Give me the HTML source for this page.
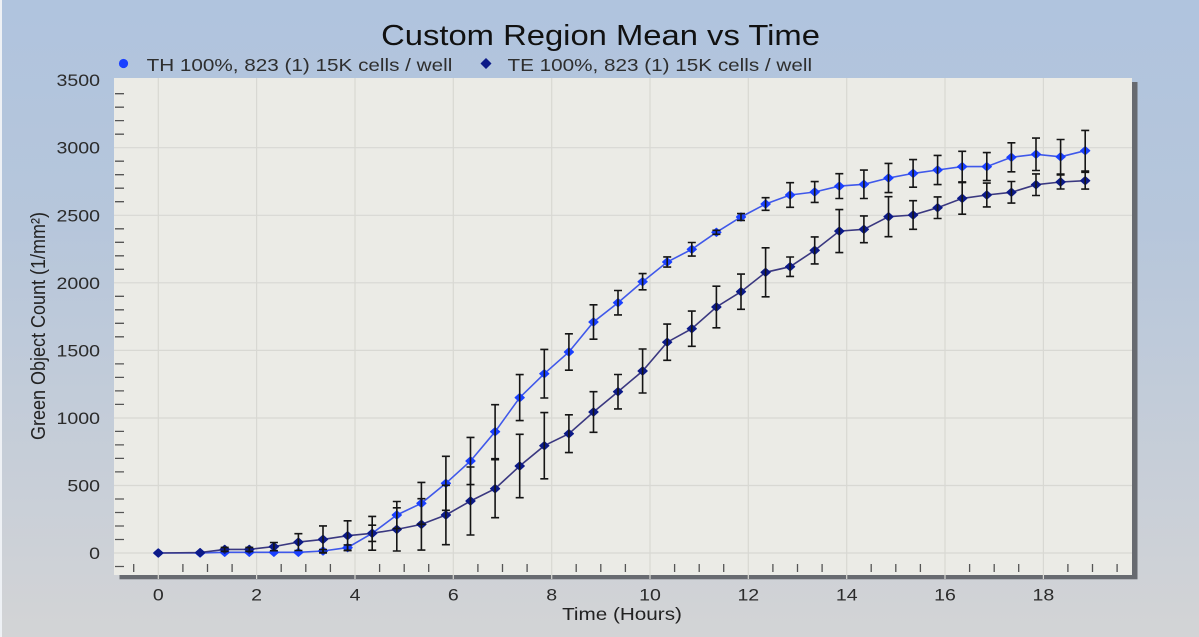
<!DOCTYPE html>
<html>
<head>
<meta charset="utf-8">
<style>
html,body{margin:0;padding:0;width:1199px;height:637px;overflow:hidden;}
svg{display:block;font-family:"Liberation Sans",Arial,sans-serif;}
</style>
</head>
<body>
<svg width="1199" height="637" viewBox="0 0 1199 637" xmlns="http://www.w3.org/2000/svg">
<defs>
<linearGradient id="bg" x1="0" y1="0" x2="0" y2="1">
<stop offset="0" stop-color="#b0c4de"/>
<stop offset="0.35" stop-color="#b6c6db"/>
<stop offset="1" stop-color="#d3d4d6"/>
</linearGradient>
<marker id="mth" markerWidth="14" markerHeight="14" refX="7" refY="7" markerUnits="userSpaceOnUse" overflow="visible">
<path d="M7,3 L11.5,7 L7,11 L2.5,7Z" fill="#1a40ff" stroke="#1a40ff" stroke-width="1.3" stroke-linejoin="round"/>
</marker>
<marker id="mte" markerWidth="14" markerHeight="14" refX="7" refY="7" markerUnits="userSpaceOnUse" overflow="visible">
<path d="M7,3 L11.5,7 L7,11 L2.5,7Z" fill="#0c1a88" stroke="#0c1a88" stroke-width="1.3" stroke-linejoin="round"/>
</marker>
</defs>

<rect x="0" y="0" width="1199" height="637" fill="url(#bg)"/>
<rect x="0" y="0" width="2" height="637" fill="#eef1f5"/>

<!-- shadow -->
<rect x="119.5" y="82" width="1018" height="497.3" fill="#676a70"/>
<!-- plot area -->
<rect x="114" y="78" width="1018" height="497" fill="#ebebe6"/>

<!-- grid -->
<g stroke="#d8d8d3" stroke-width="1.2">
<path d="M158.3 78V579M256.6 78V579M355 78V579M453.3 78V579M551.7 78V579M650 78V579M748.3 78V579M846.7 78V579M945 78V579M1043.4 78V579"/>
<path d="M114 553H1132M114 485.5H1132M114 418H1132M114 350.4H1132M114 282.8H1132M114 215.3H1132M114 147.7H1132"/>
</g>

<!-- y minor ticks -->
<g stroke="#555" stroke-width="1.3">
<path d="M115 566.5h9M115 539.5h9M115 526h9M115 512.5h9M115 499h9M115 471.9h9M115 458.4h9M115 444.9h9M115 431.4h9M115 404.4h9M115 390.9h9M115 377.4h9M115 363.9h9M115 336.8h9M115 323.3h9M115 309.8h9M115 296.3h9M115 269.3h9M115 255.8h9M115 242.3h9M115 228.8h9M115 201.7h9M115 188.2h9M115 174.7h9M115 161.2h9M115 134.2h9M115 120.6h9M115 107.2h9M115 93.7h9"/>
<!-- x minor ticks -->
<path d="M133.7 564v8M182.9 564v8M207.5 564v8M232.1 564v8M281.2 564v8M305.8 564v8M330.4 564v8M379.6 564v8M404.2 564v8M428.7 564v8M477.9 564v8M502.5 564v8M527.1 564v8M576.2 564v8M600.8 564v8M625.4 564v8M674.6 564v8M699.2 564v8M723.7 564v8M772.9 564v8M797.5 564v8M822.1 564v8M871.2 564v8M895.8 564v8M920.4 564v8M969.6 564v8M994.2 564v8M1018.7 564v8M1067.9 564v8M1092.5 564v8M1117.1 564v8"/>
</g>

<!-- series lines -->
<polyline fill="none" stroke="#3f58ea" stroke-width="1.6" points="158.3,553 200.1,553 224.7,552.3 249.3,552.3 273.9,552.3 298.4,552.3 323,551 347.6,547.6 372.2,533.3 396.8,515 421.4,503.3 445.9,483.3 470.5,461 495.1,431.7 519.7,397.6 544.3,373.7 568.9,352 593.5,322 618,302.7 642.6,281.7 667.2,262 691.8,249.3 716.4,232.3 741,217 765.6,204 790.1,195 814.7,192 839.3,186.1 863.9,184.3 888.5,178 913.1,173.4 937.6,170 962.2,166.6 986.8,166.6 1011.4,157.3 1036,154.3 1060.6,156.8 1085.2,150.7"/>
<polyline fill="none" stroke="#3a3880" stroke-width="1.6" points="158.3,553 200.1,552.6 224.7,549.4 249.3,549.4 273.9,546.6 298.4,542.1 323,539.4 347.6,535.7 372.2,533.3 396.8,529.4 421.4,524.4 445.9,515 470.5,501 495.1,488.7 519.7,466 544.3,445.7 568.9,433.7 593.5,412 618,391.7 642.6,371 667.2,342.2 691.8,328.7 716.4,307 741,291.7 765.6,272.3 790.1,266.7 814.7,250.4 839.3,231.1 863.9,229.3 888.5,216.7 913.1,215 937.6,207.7 962.2,198.4 986.8,195 1011.4,192.3 1036,184.7 1060.6,182 1085.2,180.7"/>

<!-- markers -->
<polyline fill="none" stroke="none" marker-start="url(#mth)" marker-mid="url(#mth)" marker-end="url(#mth)" points="158.3,553 200.1,553 224.7,552.3 249.3,552.3 273.9,552.3 298.4,552.3 323,551 347.6,547.6 372.2,533.3 396.8,515 421.4,503.3 445.9,483.3 470.5,461 495.1,431.7 519.7,397.6 544.3,373.7 568.9,352 593.5,322 618,302.7 642.6,281.7 667.2,262 691.8,249.3 716.4,232.3 741,217 765.6,204 790.1,195 814.7,192 839.3,186.1 863.9,184.3 888.5,178 913.1,173.4 937.6,170 962.2,166.6 986.8,166.6 1011.4,157.3 1036,154.3 1060.6,156.8 1085.2,150.7"/>
<polyline fill="none" stroke="none" marker-start="url(#mte)" marker-mid="url(#mte)" marker-end="url(#mte)" points="158.3,553 200.1,552.6 224.7,549.4 249.3,549.4 273.9,546.6 298.4,542.1 323,539.4 347.6,535.7 372.2,533.3 396.8,529.4 421.4,524.4 445.9,515 470.5,501 495.1,488.7 519.7,466 544.3,445.7 568.9,433.7 593.5,412 618,391.7 642.6,371 667.2,342.2 691.8,328.7 716.4,307 741,291.7 765.6,272.3 790.1,266.7 814.7,250.4 839.3,231.1 863.9,229.3 888.5,216.7 913.1,215 937.6,207.7 962.2,198.4 986.8,195 1011.4,192.3 1036,184.7 1060.6,182 1085.2,180.7"/>

<!-- error bars -->
<g fill="none" stroke="#151515" stroke-width="1.6">
<path d="M323 549.6V552.4M319 549.6h8M319 552.4h8M347.6 544.9V550.3M343.6 544.9h8M343.6 550.3h8M372.2 525.2V541.4M368.2 525.2h8M368.2 541.4h8M396.8 501.5V528.5M392.8 501.5h8M392.8 528.5h8M421.4 482.4V524.2M417.4 482.4h8M417.4 524.2h8M445.9 456.3V510.3M441.9 456.3h8M441.9 510.3h8M470.5 437.4V484.6M466.5 437.4h8M466.5 484.6h8M495.1 404.7V458.7M491.1 404.7h8M491.1 458.7h8M519.7 374.6V420.6M515.7 374.6h8M515.7 420.6h8M544.3 349.4V398M540.3 349.4h8M540.3 398h8M568.9 333.8V370.2M564.9 333.8h8M564.9 370.2h8M593.5 304.8V339.2M589.5 304.8h8M589.5 339.2h8M618 290.5V314.9M614 290.5h8M614 314.9h8M642.6 273.6V289.8M638.6 273.6h8M638.6 289.8h8M667.2 256.9V267.1M663.2 256.9h8M663.2 267.1h8M691.8 242.5V256.1M687.8 242.5h8M687.8 256.1h8M716.4 230.3V234.3M712.4 230.3h8M712.4 234.3h8M741 213.6V220.4M737 213.6h8M737 220.4h8M765.6 197.7V210.3M761.6 197.7h8M761.6 210.3h8M790.1 182.7V207.3M786.1 182.7h8M786.1 207.3h8M814.7 181.6V202.4M810.7 181.6h8M810.7 202.4h8M839.3 173.7V198.5M835.3 173.7h8M835.3 198.5h8M863.9 170.1V198.5M859.9 170.1h8M859.9 198.5h8M888.5 163.4V192.6M884.5 163.4h8M884.5 192.6h8M913.1 159.6V187.2M909.1 159.6h8M909.1 187.2h8M937.6 155.4V184.6M933.6 155.4h8M933.6 184.6h8M962.2 151.3V181.9M958.2 151.3h8M958.2 181.9h8M986.8 152.6V180.6M982.8 152.6h8M982.8 180.6h8M1011.4 142.8V171.8M1007.4 142.8h8M1007.4 171.8h8M1036 138.1V170.5M1032 138.1h8M1032 170.5h8M1060.6 139.5V174.1M1056.6 139.5h8M1056.6 174.1h8M1085.2 130.4V171M1081.2 130.4h8M1081.2 171h8"/>
<path d="M224.7 547.4V551.4M220.7 547.4h8M220.7 551.4h8M249.3 547.4V551.4M245.3 547.4h8M245.3 551.4h8M273.9 542.5V550.7M269.9 542.5h8M269.9 550.7h8M298.4 533.7V550.5M294.4 533.7h8M294.4 550.5h8M323 525.9V552.9M319 525.9h8M319 552.9h8M347.6 520.8V550.6M343.6 520.8h8M343.6 550.6h8M372.2 516.4V550.2M368.2 516.4h8M368.2 550.2h8M396.8 507.8V551M392.8 507.8h8M392.8 551h8M421.4 498.7V550.1M417.4 498.7h8M417.4 550.1h8M445.9 485.3V544.7M441.9 485.3h8M441.9 544.7h8M470.5 467V535M466.5 467h8M466.5 535h8M495.1 459.7V517.7M491.1 459.7h8M491.1 517.7h8M519.7 434.3V497.7M515.7 434.3h8M515.7 497.7h8M544.3 412.6V478.8M540.3 412.6h8M540.3 478.8h8M568.9 414.8V452.6M564.9 414.8h8M564.9 452.6h8M593.5 391.7V432.3M589.5 391.7h8M589.5 432.3h8M618 374.5V408.9M614 374.5h8M614 408.9h8M642.6 349V393M638.6 349h8M638.6 393h8M667.2 324.1V360.3M663.2 324.1h8M663.2 360.3h8M691.8 311.1V346.3M687.8 311.1h8M687.8 346.3h8M716.4 286.2V327.8M712.4 286.2h8M712.4 327.8h8M741 274.1V309.3M737 274.1h8M737 309.3h8M765.6 247.8V296.8M761.6 247.8h8M761.6 296.8h8M790.1 257V276.4M786.1 257h8M786.1 276.4h8M814.7 236.9V263.9M810.7 236.9h8M810.7 263.9h8M839.3 209.6V252.6M835.3 209.6h8M835.3 252.6h8M863.9 215.9V242.7M859.9 215.9h8M859.9 242.7h8M888.5 196.7V236.7M884.5 196.7h8M884.5 236.7h8M913.1 200.7V229.3M909.1 200.7h8M909.1 229.3h8M937.6 196.9V218.5M933.6 196.9h8M933.6 218.5h8M962.2 182.6V214.2M958.2 182.6h8M958.2 214.2h8M986.8 183.1V206.9M982.8 183.1h8M982.8 206.9h8M1011.4 181.5V203.1M1007.4 181.5h8M1007.4 203.1h8M1036 173.9V195.5M1032 173.9h8M1032 195.5h8M1060.6 175V189M1056.6 175h8M1056.6 189h8M1085.2 172.3V189.1M1081.2 172.3h8M1081.2 189.1h8"/>
</g>

<!-- title -->
<text transform="translate(600.5,45) scale(1.13,1)" text-anchor="middle" font-size="29" fill="#111">Custom Region Mean vs Time</text>

<!-- legend -->
<circle cx="123.5" cy="63.5" r="4.6" fill="#1a40ff"/>
<text transform="translate(146.6,71) scale(1.15,1)" font-size="18" fill="#2e2e2e">TH 100%, 823 (1) 15K cells / well</text>
<path d="M486 58.5 L491 63.5 L486 68.5 L481 63.5Z" fill="#0c1a88" stroke="#0c1a88" stroke-width="0.8" stroke-linejoin="round"/>
<text transform="translate(507.5,71) scale(1.15,1)" font-size="18" fill="#2e2e2e">TE 100%, 823 (1) 15K cells / well</text>

<!-- y tick labels -->
<g font-size="17" fill="#2b2b2b" text-anchor="end">
<text transform="translate(100,86.2) scale(1.15,1)">3500</text>
<text transform="translate(100,153.7) scale(1.15,1)">3000</text>
<text transform="translate(100,221.3) scale(1.15,1)">2500</text>
<text transform="translate(100,288.8) scale(1.15,1)">2000</text>
<text transform="translate(100,356.4) scale(1.15,1)">1500</text>
<text transform="translate(100,424) scale(1.15,1)">1000</text>
<text transform="translate(100,491.5) scale(1.15,1)">500</text>
<text transform="translate(100,559) scale(1.15,1)">0</text>
</g>

<!-- x tick labels -->
<g font-size="17" fill="#2b2b2b" text-anchor="middle">
<text transform="translate(158.3,600.7) scale(1.15,1)">0</text>
<text transform="translate(256.6,600.7) scale(1.15,1)">2</text>
<text transform="translate(355,600.7) scale(1.15,1)">4</text>
<text transform="translate(453.3,600.7) scale(1.15,1)">6</text>
<text transform="translate(551.7,600.7) scale(1.15,1)">8</text>
<text transform="translate(650,600.7) scale(1.15,1)">10</text>
<text transform="translate(748.3,600.7) scale(1.15,1)">12</text>
<text transform="translate(846.7,600.7) scale(1.15,1)">14</text>
<text transform="translate(945,600.7) scale(1.15,1)">16</text>
<text transform="translate(1043.4,600.7) scale(1.15,1)">18</text>
</g>

<!-- axis titles -->
<text transform="translate(622,620) scale(1.15,1)" text-anchor="middle" font-size="18" fill="#222">Time (Hours)</text>
<text transform="translate(45,326) rotate(-90) scale(1,1.12)" text-anchor="middle" font-size="18" fill="#222">Green Object Count (1/mm²)</text>
</svg>
</body>
</html>
